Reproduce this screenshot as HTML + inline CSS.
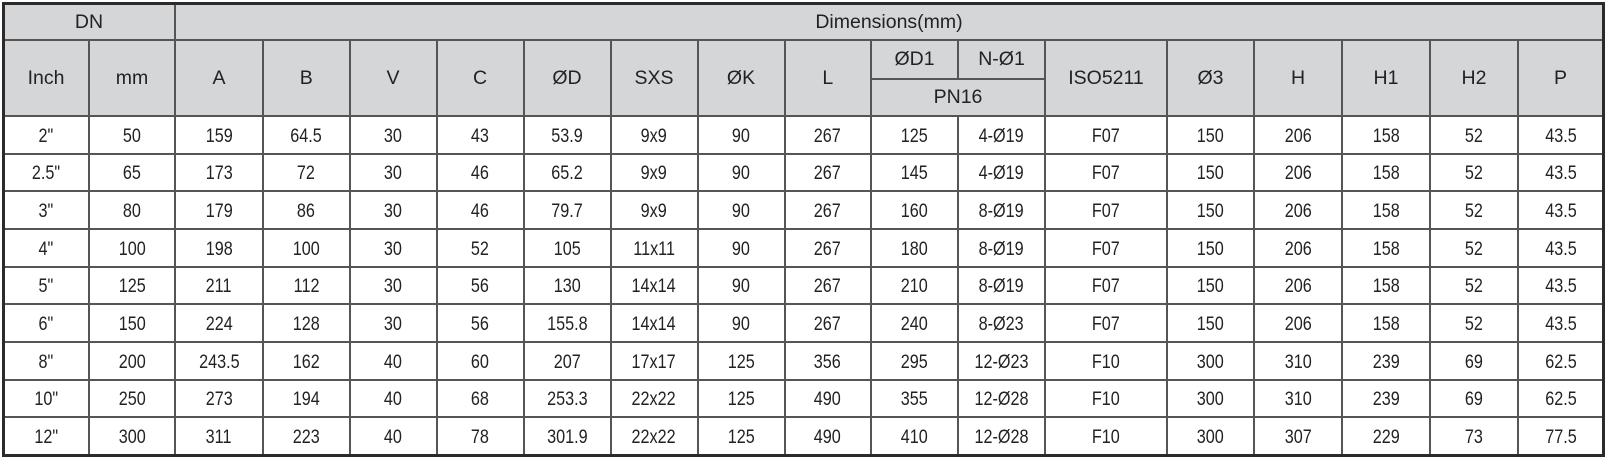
<!DOCTYPE html>
<html><head><meta charset="utf-8">
<style>
html,body{margin:0;padding:0;background:#fff;}
body{width:1607px;height:460px;position:relative;overflow:hidden;font-family:"Liberation Sans",Arial,sans-serif;color:#222;}
.hbg{position:absolute;left:3px;top:3px;width:1600px;height:113px;background:#d5d6d8;}
.v{position:absolute;width:2px;background:#555;}
.h{position:absolute;height:2px;background:#555;}
.t{position:absolute;display:flex;align-items:center;justify-content:center;font-size:19.5px;white-space:nowrap;}
.outer{position:absolute;left:2px;top:2px;width:1597px;height:449px;border:3px solid #2b2b2b;}
table{position:absolute;left:3px;top:116px;border-collapse:collapse;table-layout:fixed;width:1600px;}
td{height:37.67px;padding:0;text-align:center;vertical-align:middle;font-size:19.5px;line-height:20px;}
td span{display:inline-block;transform:scaleX(.83);position:relative;top:1px;}
</style></head><body>
<div class="hbg"></div>

<!-- horizontal lines -->
<div class="h" style="left:3px;top:39px;width:1600px;"></div>
<div class="h" style="left:3px;top:115px;width:1600px;"></div>
<div class="h" style="left:871px;top:78px;width:174px;"></div>
<div class="h" style="left:3px;top:153px;width:1600px;"></div>
<div class="h" style="left:3px;top:190px;width:1600px;"></div>
<div class="h" style="left:3px;top:228px;width:1600px;"></div>
<div class="h" style="left:3px;top:266px;width:1600px;"></div>
<div class="h" style="left:3px;top:303px;width:1600px;"></div>
<div class="h" style="left:3px;top:341px;width:1600px;"></div>
<div class="h" style="left:3px;top:379px;width:1600px;"></div>
<div class="h" style="left:3px;top:416px;width:1600px;"></div>

<!-- vertical lines -->
<div class="v" style="left:174px;top:3px;height:452px;"></div>
<div class="v" style="left:88px;top:40px;height:415px;"></div>
<div class="v" style="left:262px;top:40px;height:415px;"></div>
<div class="v" style="left:348.5px;top:40px;height:415px;"></div>
<div class="v" style="left:435.5px;top:40px;height:415px;"></div>
<div class="v" style="left:522.5px;top:40px;height:415px;"></div>
<div class="v" style="left:609.5px;top:40px;height:415px;"></div>
<div class="v" style="left:696.5px;top:40px;height:415px;"></div>
<div class="v" style="left:783.5px;top:40px;height:415px;"></div>
<div class="v" style="left:870px;top:40px;height:415px;"></div>
<div class="v" style="left:957px;top:40px;height:39px;"></div>
<div class="v" style="left:957px;top:116px;height:339px;"></div>
<div class="v" style="left:1044px;top:40px;height:415px;"></div>
<div class="v" style="left:1166px;top:40px;height:415px;"></div>
<div class="v" style="left:1253px;top:40px;height:415px;"></div>
<div class="v" style="left:1341px;top:40px;height:415px;"></div>
<div class="v" style="left:1429px;top:40px;height:415px;"></div>
<div class="v" style="left:1517px;top:40px;height:415px;"></div>

<div class="outer"></div>

<!-- header text -->
<div class="t" style="left:3px;top:4px;width:172px;height:36px;">DN</div>
<div class="t" style="left:175px;top:4px;width:1428px;height:36px;">Dimensions(mm)</div>
<div class="t" style="left:3px;top:40px;width:86px;height:76px;">Inch</div>
<div class="t" style="left:89px;top:40px;width:86px;height:76px;">mm</div>
<div class="t" style="left:175px;top:40px;width:88px;height:76px;">A</div>
<div class="t" style="left:263px;top:40px;width:86.5px;height:76px;">B</div>
<div class="t" style="left:349.5px;top:40px;width:87px;height:76px;">V</div>
<div class="t" style="left:436.5px;top:40px;width:87px;height:76px;">C</div>
<div class="t" style="left:523.5px;top:40px;width:87px;height:76px;">ØD</div>
<div class="t" style="left:610.5px;top:40px;width:87px;height:76px;">SXS</div>
<div class="t" style="left:697.5px;top:40px;width:87px;height:76px;">ØK</div>
<div class="t" style="left:784.5px;top:40px;width:86.5px;height:76px;">L</div>
<div class="t" style="left:871px;top:40px;width:87px;height:39px;">ØD1</div>
<div class="t" style="left:958px;top:40px;width:87px;height:39px;">N-Ø1</div>
<div class="t" style="left:871px;top:79px;width:174px;height:37px;">PN16</div>
<div class="t" style="left:1045px;top:40px;width:122px;height:76px;">ISO5211</div>
<div class="t" style="left:1167px;top:40px;width:87px;height:76px;">Ø3</div>
<div class="t" style="left:1254px;top:40px;width:88px;height:76px;">H</div>
<div class="t" style="left:1342px;top:40px;width:88px;height:76px;">H1</div>
<div class="t" style="left:1430px;top:40px;width:88px;height:76px;">H2</div>
<div class="t" style="left:1518px;top:40px;width:85px;height:76px;">P</div>

<table>
<colgroup>
<col style="width:86px"><col style="width:86px"><col style="width:88px"><col style="width:86.5px"><col style="width:87px"><col style="width:87px"><col style="width:87px"><col style="width:87px"><col style="width:87px"><col style="width:86.5px"><col style="width:87px"><col style="width:87px"><col style="width:122px"><col style="width:87px"><col style="width:88px"><col style="width:88px"><col style="width:88px"><col style="width:85px">
</colgroup>
<tr><td><span>2"</span></td><td><span>50</span></td><td><span>159</span></td><td><span>64.5</span></td><td><span>30</span></td><td><span>43</span></td><td><span>53.9</span></td><td><span>9x9</span></td><td><span>90</span></td><td><span>267</span></td><td><span>125</span></td><td><span>4-Ø19</span></td><td><span>F07</span></td><td><span>150</span></td><td><span>206</span></td><td><span>158</span></td><td><span>52</span></td><td><span>43.5</span></td></tr>
<tr><td><span>2.5"</span></td><td><span>65</span></td><td><span>173</span></td><td><span>72</span></td><td><span>30</span></td><td><span>46</span></td><td><span>65.2</span></td><td><span>9x9</span></td><td><span>90</span></td><td><span>267</span></td><td><span>145</span></td><td><span>4-Ø19</span></td><td><span>F07</span></td><td><span>150</span></td><td><span>206</span></td><td><span>158</span></td><td><span>52</span></td><td><span>43.5</span></td></tr>
<tr><td><span>3"</span></td><td><span>80</span></td><td><span>179</span></td><td><span>86</span></td><td><span>30</span></td><td><span>46</span></td><td><span>79.7</span></td><td><span>9x9</span></td><td><span>90</span></td><td><span>267</span></td><td><span>160</span></td><td><span>8-Ø19</span></td><td><span>F07</span></td><td><span>150</span></td><td><span>206</span></td><td><span>158</span></td><td><span>52</span></td><td><span>43.5</span></td></tr>
<tr><td><span>4"</span></td><td><span>100</span></td><td><span>198</span></td><td><span>100</span></td><td><span>30</span></td><td><span>52</span></td><td><span>105</span></td><td><span>11x11</span></td><td><span>90</span></td><td><span>267</span></td><td><span>180</span></td><td><span>8-Ø19</span></td><td><span>F07</span></td><td><span>150</span></td><td><span>206</span></td><td><span>158</span></td><td><span>52</span></td><td><span>43.5</span></td></tr>
<tr><td><span>5"</span></td><td><span>125</span></td><td><span>211</span></td><td><span>112</span></td><td><span>30</span></td><td><span>56</span></td><td><span>130</span></td><td><span>14x14</span></td><td><span>90</span></td><td><span>267</span></td><td><span>210</span></td><td><span>8-Ø19</span></td><td><span>F07</span></td><td><span>150</span></td><td><span>206</span></td><td><span>158</span></td><td><span>52</span></td><td><span>43.5</span></td></tr>
<tr><td><span>6"</span></td><td><span>150</span></td><td><span>224</span></td><td><span>128</span></td><td><span>30</span></td><td><span>56</span></td><td><span>155.8</span></td><td><span>14x14</span></td><td><span>90</span></td><td><span>267</span></td><td><span>240</span></td><td><span>8-Ø23</span></td><td><span>F07</span></td><td><span>150</span></td><td><span>206</span></td><td><span>158</span></td><td><span>52</span></td><td><span>43.5</span></td></tr>
<tr><td><span>8"</span></td><td><span>200</span></td><td><span>243.5</span></td><td><span>162</span></td><td><span>40</span></td><td><span>60</span></td><td><span>207</span></td><td><span>17x17</span></td><td><span>125</span></td><td><span>356</span></td><td><span>295</span></td><td><span>12-Ø23</span></td><td><span>F10</span></td><td><span>300</span></td><td><span>310</span></td><td><span>239</span></td><td><span>69</span></td><td><span>62.5</span></td></tr>
<tr><td><span>10"</span></td><td><span>250</span></td><td><span>273</span></td><td><span>194</span></td><td><span>40</span></td><td><span>68</span></td><td><span>253.3</span></td><td><span>22x22</span></td><td><span>125</span></td><td><span>490</span></td><td><span>355</span></td><td><span>12-Ø28</span></td><td><span>F10</span></td><td><span>300</span></td><td><span>310</span></td><td><span>239</span></td><td><span>69</span></td><td><span>62.5</span></td></tr>
<tr><td><span>12"</span></td><td><span>300</span></td><td><span>311</span></td><td><span>223</span></td><td><span>40</span></td><td><span>78</span></td><td><span>301.9</span></td><td><span>22x22</span></td><td><span>125</span></td><td><span>490</span></td><td><span>410</span></td><td><span>12-Ø28</span></td><td><span>F10</span></td><td><span>300</span></td><td><span>307</span></td><td><span>229</span></td><td><span>73</span></td><td><span>77.5</span></td></tr>
</table>
</body></html>
